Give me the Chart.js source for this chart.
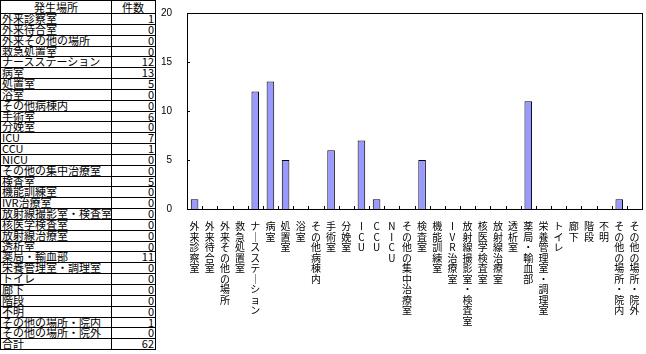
<!DOCTYPE html>
<html>
<head>
<meta charset="utf-8">
<script src="https://cdn.jsdelivr.net/npm/chart.js@4/dist/chart.umd.min.js"></script>
<style>
  body { margin: 0; background: #fff; width: 646px; height: 354px; overflow: hidden; position: relative; }
  #tbl { position: absolute; left: 0; top: 0; width: 156px; border: 1px solid #000; box-sizing: border-box;
         font-family: "Noto Sans CJK JP", sans-serif; font-size: 11px; color: #000; }
  .row { position: absolute; left: 0; width: 154px; border-bottom: 1px solid #000; box-sizing: border-box; }
  .row span { position: absolute; top: 0; white-space: nowrap; }
  .name { left: 1px; }
  .num { right: 1px; }
  .head .name { left: 0; width: 110px; text-align: center; }
  .head .num { right: 0; width: 44px; text-align: center; }
  #divider { position: absolute; left: 110px; top: 0; bottom: 0; border-left: 1px solid #000; }
  #wrap { position: absolute; left: 160px; top: 0; width: 486px; height: 354px; }
</style>
</head>
<body>
<div id="tbl"><div id="divider"></div></div>
<div id="wrap"><canvas id="chart" width="486" height="354"></canvas></div>
<script>
// 発生場所ごとの件数
var places = ['外来診察室', '外来待合室', '外来その他の場所', '救急処置室', 'ナースステーション',
  '病室', '処置室', '浴室', 'その他病棟内', '手術室', '分娩室', 'ICU', 'CCU', 'NICU',
  'その他の集中治療室', '検査室', '機能訓練室', 'IVR治療室', '放射線撮影室・検査室', '核医学検査室',
  '放射線治療室', '透析室', '薬局・輸血部', '栄養管理室・調理室', 'トイレ', '廊下', '階段', '不明',
  'その他の場所・院内', 'その他の場所・院外'];
var counts = [1, 0, 0, 0, 12, 13, 5, 0, 0, 6, 0, 7, 1, 0, 0, 5, 0, 0, 0, 0, 0, 0, 11, 0, 0, 0, 0, 0, 1, 0];
var headers = ['発生場所', '件数'];
var totalLabel = '合計';
var total = 62;
var yTicks = [0, 5, 10, 15, 20];

// left table
var tbl = document.getElementById('tbl');
var headH = 13, rowH = 10.84;
var rows = [[headers[0], headers[1]]];
places.forEach(function (p, i) { rows.push([p, counts[i]]); });
rows.push([totalLabel, total]);
rows.forEach(function (r, i) {
  var d = document.createElement('div');
  d.className = 'row' + (i == 0 ? ' head' : '');
  var top = i == 0 ? 0 : headH + (i - 1) * rowH;
  var h = i == 0 ? headH : rowH;
  d.style.top = top + 'px';
  d.style.height = h + 'px';
  d.style.lineHeight = (h - 1) + 'px';
  if (i == rows.length - 1) d.style.borderBottom = 'none';
  d.innerHTML = '<span class="name">' + r[0] + '</span><span class="num">' + r[1] + '</span>';
  tbl.appendChild(d);
});
tbl.style.height = (headH + (rows.length - 1) * rowH + 1) + 'px';

// vertical labels: one character per line
function vert(s) {
  return s.split('').map(function (c) { return c == 'ー' ? '｜' : c; });
}

var frame = {
  id: 'frame',
  afterDraw: function (chart) {
    var c = chart.ctx, a = chart.chartArea;
    var ys = chart.scales.y;
    c.save();
    c.strokeStyle = '#000';
    c.lineWidth = 1;
    c.strokeRect(Math.round(a.left) + 0.5, Math.round(a.top) + 0.5,
      Math.round(a.right - a.left), Math.round(a.bottom - a.top));
    c.beginPath();
    var n = places.length, step = (a.right - a.left) / n;
    for (var i = 1; i < n; i++) {
      var x = Math.round(a.left + i * step) + 0.5;
      c.moveTo(x, a.bottom); c.lineTo(x, a.bottom - 3);
    }
    yTicks.forEach(function (v) {
      var y = Math.round(ys.getPixelForValue(v)) + 0.5;
      c.moveTo(a.left, y); c.lineTo(a.left + 3, y);
    });
    c.stroke();
    c.restore();
  }
};

new Chart(document.getElementById('chart'), {
  type: 'bar',
  data: {
    labels: places.map(vert),
    datasets: [{
      data: counts,
      backgroundColor: '#9999ff',
      borderColor: '#000',
      borderWidth: 1,
      barPercentage: 0.5,
      categoryPercentage: 1
    }]
  },
  options: {
    responsive: false,
    animation: false,
    layout: { padding: { top: 5, right: 4, left: 0, bottom: 0 } },
    plugins: { legend: { display: false }, tooltip: { enabled: false } },
    scales: {
      x: {
        grid: { display: false },
        border: { display: false },
        ticks: {
          autoSkip: false, maxRotation: 0, minRotation: 0, padding: 4, color: '#000',
          font: { family: 'Noto Sans CJK JP', size: 10, lineHeight: 1.05 }
        },
        afterFit: function (s) { s.height = 145; }
      },
      y: {
        min: 0, max: 20,
        grid: { display: false },
        border: { display: false },
        ticks: {
          stepSize: 5, padding: 7, color: '#000',
          font: { family: 'Liberation Sans', size: 10 }
        },
        afterFit: function (s) { s.width = 27; }
      }
    }
  },
  plugins: [frame]
});
</script>
</body>
</html>
